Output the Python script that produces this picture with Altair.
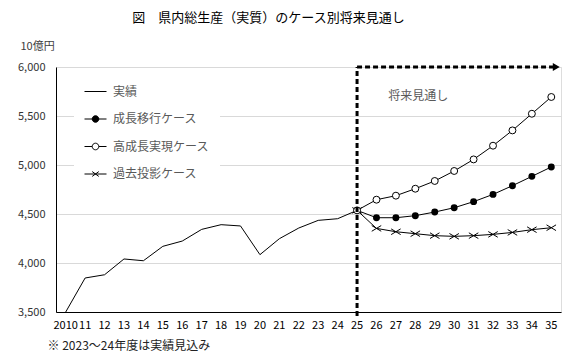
import altair as alt
import pandas as pd

FONT = "Noto Sans CJK JP"

x_labels = ["2010", "11", "12", "13", "14", "15", "16", "17", "18", "19", "20",
            "21", "22", "23", "24", "25", "26", "27", "28", "29", "30",
            "31", "32", "33", "34", "35"]
y_ticks = [3500, 4000, 4500, 5000, 5500, 6000]

series_names = ["実績", "成長移行ケース", "高成長実現ケース", "過去投影ケース"]

actual_years = ["2010", "11", "12", "13", "14", "15", "16", "17", "18", "19",
                "20", "21", "22", "23", "24", "25"]
actual_values = [3500, 3847, 3880, 4041, 4023, 4170, 4224, 4343, 4391, 4378,
                 4085, 4248, 4357, 4435, 4452, 4537]

proj_years = ["25", "26", "27", "28", "29", "30", "31", "32", "33", "34", "35"]
growth_values = [4537, 4462, 4462, 4483, 4520, 4564, 4626, 4700, 4789, 4884, 4980]
high_values = [4537, 4646, 4687, 4758, 4837, 4939, 5057, 5197, 5353, 5523, 5694]
past_values = [4537, 4353, 4319, 4299, 4279, 4272, 4279, 4292, 4312, 4340, 4360]

# annotation (dashed frame + label)
frame_start = "25"
frame_end = "35"
frame_low = 3500
frame_high = 6000
note_text = "将来見通し"
note_x = "28"
note_y = 5707

title_text = "図　県内総生産（実質）のケース別将来見通し"
footnote = "※ 2023～24年度は実績見込み"
unit_text = "10億円"

rows = [{"year": y, "value": v, "series": series_names[0]}
        for y, v in zip(actual_years, actual_values)]
for name, vals in [(series_names[1], growth_values),
                   (series_names[2], high_values),
                   (series_names[3], past_values)]:
    rows += [{"year": y, "value": v, "series": name} for y, v in zip(proj_years, vals)]
df = pd.DataFrame(rows)

x_enc = alt.X(
    "year:O", sort=x_labels, scale=alt.Scale(domain=x_labels),
    axis=alt.Axis(
        title=footnote, labelAngle=0, ticks=False, domainColor="black",
        labelColor="black", labelFontSize=11, labelPadding=7, labelFont=FONT,
        titleAnchor="start", titleAlign="left", titleX=-9, titleY=33,
        titleBaseline="middle", titleFontWeight="normal", titleFontSize=12,
        titleColor="#222222", titleFont=FONT, grid=False,
    ),
)
y_enc = alt.Y(
    "value:Q", scale=alt.Scale(domain=[3500, 6000], nice=False, zero=False),
    axis=alt.Axis(
        values=y_ticks, format=",d", title=unit_text, titleAngle=0,
        titleAlign="left", titleX=-36, titleY=-21, titleBaseline="middle",
        titleFontWeight="normal", titleFontSize=11, titleFont=FONT,
        titleColor="#404040", ticks=False, labelPadding=11, labelFontSize=11,
        labelFont=FONT, labelColor="#333333", domainColor="black",
        gridColor="#d9d9d9",
    ),
)

base = alt.Chart(df)

lines = base.mark_line(color="black", strokeWidth=1).encode(
    x=x_enc, y=y_enc, detail="series:N"
)

growth_pts = base.transform_filter(
    alt.datum.series == series_names[1]
).mark_point(shape="circle", filled=True, size=48, color="black", opacity=1).encode(x=x_enc, y=y_enc)

past_pts = base.transform_filter(
    alt.datum.series == series_names[3]
).mark_point(shape="M-1,-0.6L1,0.6M-1,0.6L1,-0.6", size=90, color="black",
             strokeWidth=1, opacity=1).encode(x=x_enc, y=y_enc)

high_pts = base.transform_filter(
    alt.datum.series == series_names[2]
).mark_point(shape="circle", filled=True, size=48, fill="white", stroke="black",
             strokeWidth=1, opacity=1).encode(x=x_enc, y=y_enc)

legend_paths = [
    "M-1,0L1,0",
    "M-1,0L1,0M-0.3,0A0.3,0.3 0 1,0 0.3,0A0.3,0.3 0 1,0 -0.3,0Z",
    "M-1,0L-0.3,0M0.3,0L1,0M-0.3,0A0.3,0.3 0 1,0 0.3,0A0.3,0.3 0 1,0 -0.3,0Z",
    "M-1,0L1,0M-0.3,-0.22L0.3,0.22M-0.3,0.22L0.3,-0.22",
]
legend_fills = ["black", "black", "white", "black"]
legend_strokes = ["black", "black", "black", "black"]

leg = alt.Legend(
    title=None, orient="none", legendX=18, legendY=3, fillColor="white",
    padding=10, symbolSize=484, symbolStrokeWidth=1,
    symbolOpacity=1, labelFont=FONT, labelFontSize=12, labelColor="#595959",
    labelOffset=6, rowPadding=9.5,
)
legend_df = pd.DataFrame({"series": series_names})
legend_layer = alt.Chart(legend_df).mark_point(filled=True).encode(
    shape=alt.Shape("series:N", scale=alt.Scale(domain=series_names, range=legend_paths), legend=leg),
    fill=alt.Fill("series:N", scale=alt.Scale(domain=series_names, range=legend_fills), legend=leg),
    stroke=alt.Stroke("series:N", scale=alt.Scale(domain=series_names, range=legend_strokes), legend=leg),
).transform_filter("false")

frame_df = pd.DataFrame({"x": [frame_start], "x2": [frame_end], "lo": [frame_low], "hi": [frame_high]})
vline = alt.Chart(frame_df).mark_rule(
    color="black", strokeWidth=3, strokeDash=[5, 3], yOffset=4
).encode(
    x=alt.X("x:O", sort=x_labels, scale=alt.Scale(domain=x_labels)),
    y=alt.Y("lo:Q"), y2="hi:Q",
)
hline = alt.Chart(frame_df).mark_rule(
    color="black", strokeWidth=3, strokeDash=[5, 3], x2Offset=2
).encode(
    x=alt.X("x:O", sort=x_labels, scale=alt.Scale(domain=x_labels)),
    x2="x2:O",
    y=alt.Y("hi:Q"),
)
arrow = alt.Chart(frame_df).mark_point(
    shape="triangle-right", filled=True, color="black", size=64, opacity=1, xOffset=5
).encode(
    x=alt.X("x2:O", sort=x_labels, scale=alt.Scale(domain=x_labels)),
    y=alt.Y("hi:Q"),
)

note_df = pd.DataFrame({"x": [note_x], "y": [note_y], "t": [note_text]})
note = alt.Chart(note_df).mark_text(
    font=FONT, fontSize=12, color="#595959", align="center", baseline="middle", dx=3
).encode(
    x=alt.X("x:O", sort=x_labels, scale=alt.Scale(domain=x_labels)),
    y="y:Q", text="t:N",
)

chart = alt.layer(
    lines, growth_pts, past_pts, high_pts, vline, hline, arrow, note, legend_layer
).properties(
    width=505, height=245,
    title=alt.TitleParams(
        text=title_text, font=FONT, fontSize=13, fontWeight="normal",
        color="black", anchor="middle", frame="group", dx=-40, offset=15,
    ),
    padding={"left": 9, "top": 4, "right": 5, "bottom": 5},
).configure_view(stroke=None).configure(background="white")

chart.save("out.html", embed_options={"renderer": "svg", "actions": False})
